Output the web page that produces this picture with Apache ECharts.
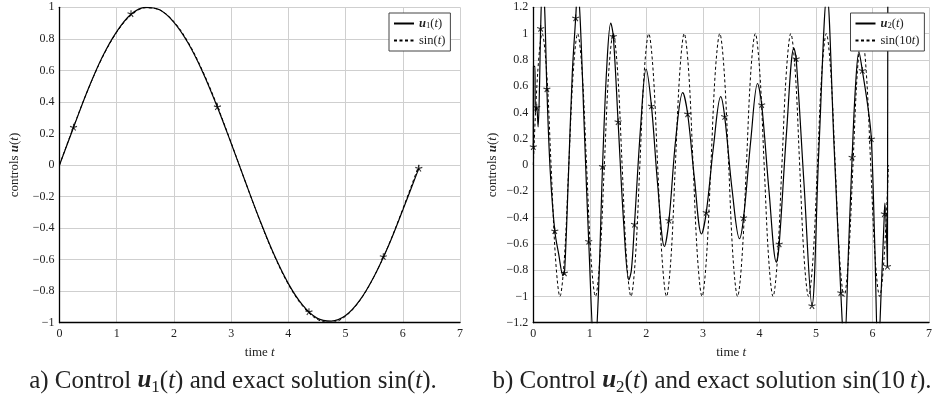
<!DOCTYPE html>
<html><head><meta charset="utf-8">
<script src="https://cdn.jsdelivr.net/npm/echarts@6/dist/echarts.min.js"></script>
<style>html,body{margin:0;padding:0;background:#fff}#c{width:935px;height:406px}</style>
</head><body><div id="c"></div>
<script>
// ---- Left panel data ----
const t1 = [0,0.25,0.5,0.75,1,1.25,1.5,1.75,2,2.25,2.5,2.75,3,3.25,3.5,3.75,4,4.25,4.5,4.75,5,5.25,5.5,5.75,6,6.25,6.283];
const sinT = [0,0.247,0.479,0.682,0.841,0.949,0.997,0.984,0.909,0.778,0.598,0.382,0.141,-0.108,-0.351,-0.572,-0.757,-0.895,-0.978,-0.999,-0.959,-0.859,-0.706,-0.510,-0.279,-0.033,0];
const u1 = [0,0.243,0.480,0.686,0.846,0.956,1.000,0.984,0.905,0.772,0.592,0.376,0.138,-0.108,-0.348,-0.568,-0.752,-0.889,-0.971,-0.990,-0.955,-0.857,-0.705,-0.512,-0.285,-0.050,-0.020];
const starT1 = [0.245,1.25,2.76,4.36,5.66,6.28];
const starV1 = [0.24,0.96,0.37,-0.93,-0.58,-0.02];

// ---- Right panel data ----
const tS10 = [0,0.079,0.157,0.236,0.314,0.393,0.471,0.550,0.628,0.707,0.785,0.864,0.942,1.021,1.100,1.178,1.257,1.335,1.414,1.492,1.571,1.649,1.728,1.806,1.885,1.963,2.042,2.121,2.199,2.278,2.356,2.435,2.513,2.592,2.670,2.749,2.827,2.906,2.985,3.063,3.142,3.220,3.299,3.377,3.456,3.534,3.613,3.691,3.770,3.848,3.927,4.006,4.084,4.163,4.241,4.320,4.398,4.477,4.555,4.634,4.712,4.791,4.869,4.948,5.027,5.105,5.184,5.262,5.341,5.419,5.498,5.576,5.655,5.733,5.812,5.890,5.969,6.048,6.126,6.205,6.283];
const sin10 = [0,0.71,1,0.71,0,-0.71,-1,-0.71, 0,0.71,1,0.71,0,-0.71,-1,-0.71, 0,0.71,1,0.71,0,-0.71,-1,-0.71, 0,0.71,1,0.71,0,-0.71,-1,-0.71, 0,0.71,1,0.71,0,-0.71,-1,-0.71, 0,0.71,1,0.71,0,-0.71,-1,-0.71, 0,0.71,1,0.71,0,-0.71,-1,-0.71, 0,0.71,1,0.71,0,-0.71,-1,-0.71, 0,0.71,1,0.71,0,-0.71,-1,-0.71, 0,0.71,1,0.71,0,-0.71,-1,-0.71, 0];
const tU2 = [0,0.003,0.03,0.035,0.06,0.085,0.11,0.13,0.16,0.195,0.24,0.30,0.38,0.45,0.525,0.555,0.62,0.69,0.75,0.785,0.83,0.90,0.98,1.085,1.15,1.225,1.30,1.37,1.415,1.50,1.60,1.69,1.735,1.79,1.90,1.995,2.09,2.20,2.32,2.40,2.52,2.643,2.73,2.85,2.975,3.06,3.19,3.315,3.385,3.52,3.647,3.72,3.85,3.967,4.04,4.17,4.30,4.35,4.48,4.61,4.65,4.79,4.93,5.05,5.195,5.32,5.44,5.50,5.58,5.64,5.70,5.76,5.82,5.92,5.98,6.04,6.10,6.16,6.21,6.22,6.265,6.272];
const u2 = [0.14,0.75,0.75,0.40,0.44,0.29,0.60,1.04,1.32,1.25,0.58,-0.05,-0.50,-0.68,-0.84,-0.80,-0.10,0.70,1.12,1.35,1.10,0.30,-0.58,-1.45,-1.00,-0.01,0.75,1.08,0.98,0.33,-0.45,-0.875,-0.80,-0.45,0.30,0.73,0.45,-0.15,-0.62,-0.42,0.20,0.55,0.39,-0.10,-0.525,-0.36,0.15,0.52,0.37,-0.20,-0.56,-0.40,0.20,0.62,0.46,-0.20,-0.74,-0.60,0.25,0.89,0.81,-0.15,-1.07,0.10,1.30,0.15,-0.97,-1.40,-0.60,0.06,0.60,0.86,0.72,0.44,0.20,-0.60,-1.45,-0.90,-0.37,-0.29,-0.77,3.0];
const starT2 = [0,0.06,0.13,0.24,0.38,0.55,0.75,0.98,1.225,1.415,1.50,1.79,2.09,2.40,2.73,3.06,3.385,3.72,4.04,4.35,4.65,4.93,5.44,5.64,5.82,5.98,6.21,6.265];
const starV2 = [0.14,0.44,1.04,0.58,-0.50,-0.82,1.12,-0.58,-0.01,0.98,0.33,-0.45,0.45,-0.42,0.39,-0.36,0.37,-0.40,0.46,-0.60,0.81,-1.07,-0.97,0.06,0.72,0.20,-0.37,-0.77];

const zip = (a,b) => a.map((v,i)=>[v,b[i]]);
const SERIF = '"Liberation Serif", "DejaVu Serif", serif';
const richTxt = (fs, lh) => ({
  n:{fontFamily:SERIF,fontSize:fs,color:'#222',lineHeight:lh},
  b:{fontFamily:SERIF,fontSize:fs,color:'#222',fontWeight:'bold',fontStyle:'italic',lineHeight:lh},
  i:{fontFamily:SERIF,fontSize:fs,color:'#222',fontStyle:'italic',lineHeight:lh},
  s:{fontFamily:SERIF,fontSize:fs*0.7,color:'#222',lineHeight:lh*0.55,verticalAlign:'bottom'}
});
const STAR = 'path://M0,0L0,-1M0,0L-0.951,-0.309M0,0L-0.588,0.809M0,0L0.588,0.809M0,0L0.951,-0.309';
const fmtY = v => String(+v.toFixed(1)).replace('-', '\u2212');

function xAxis(gi){
  return {type:'value', gridIndex:gi, min:0, max:7, interval:1,
    axisLine:{show:true,onZero:false,lineStyle:{color:'#000',width:1.3}},
    axisTick:{show:false},
    axisLabel:{fontFamily:SERIF,fontSize:12,color:'#222',margin:5},
    splitLine:{show:true,lineStyle:{color:'#cfcfcf',width:1}},
    name:'{n|time }{i|t}', nameLocation:'middle', nameGap:22,
    nameTextStyle:{rich:richTxt(13,15)}};
}
function yAxis(gi,mn,mx){
  return {type:'value', gridIndex:gi, min:mn, max:mx, interval:0.2,
    axisLine:{show:true,onZero:false,lineStyle:{color:'#000',width:1.3}},
    axisTick:{show:false},
    axisLabel:{fontFamily:SERIF,fontSize:12,color:'#222',margin:5,formatter:fmtY},
    splitLine:{show:true,lineStyle:{color:'#cfcfcf',width:1}},
    name:'{n|controls }{b|u}{n|(}{i|t}{n|)}', nameLocation:'middle', nameGap: gi===0?37:33,
    nameTextStyle:{rich:richTxt(13,15)}};
}
function legend(left, names){
  return {left:left, top:13, orient:'vertical', backgroundColor:'#fff',
    borderColor:'#444', borderWidth:1, borderRadius:0, padding:[4,5,4,4], itemGap:3.5,
    itemWidth:20, itemHeight:10, data:names.map(n=>n[0]),
    itemStyle:{opacity:0}, lineStyle:{opacity:1},
    formatter: (nm)=> names.find(n=>n[0]===nm)[1],
    textStyle:{rich:richTxt(12.5,14)}};
}
const lineS = (name, gi, data, dashed, w) => ({
  name, type:'line', xAxisIndex:gi, yAxisIndex:gi, data, symbol:'none', smooth:0.35, clip:true,
  lineStyle:{color:'#000', width:w, type: dashed?[3,2.5]:'solid'}, itemStyle:{color:'#000'},
  emphasis:{disabled:true}, animation:false});
const starS = (gi, data) => ({
  type:'scatter', xAxisIndex:gi, yAxisIndex:gi, data, symbol:STAR, symbolSize:7, symbolKeepAspect:true,
  itemStyle:{color:'rgba(0,0,0,0)', borderColor:'#000', borderWidth:1.1}, z:5, animation:false, silent:true});

const CF = 25, CLH = 30;
const capRich = {
  n:{fontFamily:SERIF,fontSize:CF,fill:'#222',lineHeight:CLH},
  b:{fontFamily:SERIF,fontSize:CF,fill:'#222',fontWeight:'bold',fontStyle:'italic',lineHeight:CLH},
  i:{fontFamily:SERIF,fontSize:CF,fill:'#222',fontStyle:'italic',lineHeight:CLH},
  s:{fontFamily:SERIF,fontSize:17,fill:'#222',lineHeight:17,verticalAlign:'bottom'}};

const chart = echarts.init(document.getElementById('c'), null, {renderer:'canvas'});
chart.setOption({
  animation:false,
  backgroundColor:'#fff',
  grid:[{left:59.5, top:7.3, width:400.5, height:315.4},{left:533.3, top:7.3, width:400, height:315.4}],
  xAxis:[xAxis(0), xAxis(1)],
  yAxis:[yAxis(0,-1,1), yAxis(1,-1.2,1.2)],
  legend:[
    legend(389, [['u1','{b|u}{s|1}{n|(}{i|t}{n|)}'],['s1','{n|sin(}{i|t}{n|)}']]),
    legend(850.5, [['u2','{b|u}{s|2}{n|(}{i|t}{n|)}'],['s10','{n|sin(10}{i|t}{n|)}']])
  ],
  series:[
    lineS('s1',0,zip(t1,sinT),true,1),
    lineS('u1',0,zip(t1,u1),false,1.2),
    starS(0, zip(starT1,starV1)),
    lineS('s10',1,zip(tS10,sin10),true,1),
    lineS('u2',1,zip(tU2,u2),false,1.2),
    starS(1, zip(starT2,starV2))
  ],
  graphic:[
    {type:'text', x:233, y:381, style:{align:'center', verticalAlign:'middle',
      text:'{n|a) Control }{b|u}{s|1}{n|(}{i|t}{n|) and exact solution sin(}{i|t}{n|).}', rich:capRich}},
    {type:'text', x:712, y:381, style:{align:'center', verticalAlign:'middle',
      text:'{n|b) Control }{b|u}{s|2}{n|(}{i|t}{n|) and exact solution sin(10\u2009}{i|t}{n|).}', rich:capRich}}
  ]
});
</script></body></html>
